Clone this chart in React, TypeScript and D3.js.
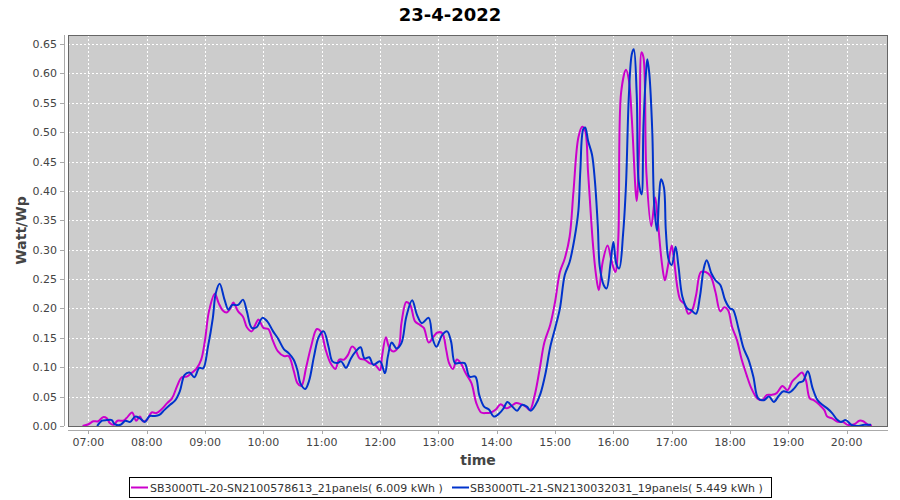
import React from "react";
import * as d3 from "d3";

const TITLE = "23-4-2022";
const X_LABEL = "time";
const Y_LABEL = "Watt/Wp";
const SERIES_NAMES = [
  "SB3000TL-20-SN2100578613_21panels( 6.009 kWh )",
  "SB3000TL-21-SN2130032031_19panels( 5.449 kWh )",
];
const SERIES_COLORS = ["#cc00cc", "#0033cc"];

const Y_TICKS = [0, 0.05, 0.1, 0.15, 0.2, 0.25, 0.3, 0.35, 0.4, 0.45, 0.5, 0.55, 0.6, 0.65];
const X_TICKS = ["07:00", "08:00", "09:00", "10:00", "11:00", "12:00", "13:00", "14:00", "15:00", "16:00", "17:00", "18:00", "19:00", "20:00"];
const X_DOMAIN = ["06:39", "20:42.5"];
const Y_MAX = 0.6653;

const s1Times = [
  "06:54","07:00","07:05","07:10","07:15","07:19","07:22","07:26","07:30","07:36","07:39","07:45","07:49","07:53","07:56",
  "08:00","08:05","08:10","08:15","08:21","08:26","08:31","08:36","08:41","08:46","08:51","08:56",
  "09:00","09:04","09:10","09:14","09:18","09:22","09:26","09:29","09:34","09:39","09:43","09:48","09:51","09:55",
  "10:00","10:05","10:10","10:15","10:21","10:26","10:31","10:35","10:39","10:44","10:49","10:55","10:59",
  "11:04","11:09","11:14","11:18","11:23","11:27","11:31","11:34","11:39","11:44","11:49","11:55",
  "12:00","12:02","12:06","12:09","12:13","12:19","12:22","12:27","12:31","12:36","12:41","12:45","12:50","12:55","12:59",
  "13:04","13:08","13:11","13:15","13:19","13:23","13:28","13:34","13:39","13:44","13:49","13:54","13:59",
  "14:04","14:10","14:15","14:20","14:25","14:30","14:34","14:39","14:44","14:49","14:55",
  "15:00","15:05","15:10","15:15","15:19","15:24","15:28","15:31","15:34","15:39","15:42","15:45","15:49","15:54","15:58",
  "16:02","16:05","16:08","16:13","16:16","16:19","16:24","16:27","16:29","16:31","16:34","16:39","16:43","16:46","16:50","16:53","16:56",
  "17:00","17:02","17:06","17:09","17:13","17:17","17:21","17:25","17:30","17:35","17:40","17:45","17:50","17:54","17:58",
  "18:02","18:07","18:12","18:17","18:22","18:28","18:33","18:38","18:43","18:48","18:54","18:59",
  "19:04","19:09","19:14","19:18","19:22","19:26","19:32","19:37","19:40","19:45","19:51","19:56",
  "20:01","20:08","20:13","20:17","20:22","20:26",
];
const s1Values = [
  0.000,0.003,0.008,0.008,0.015,0.013,0.005,0.002,0.009,0.009,0.013,0.023,0.009,0.016,0.008,
  0.010,0.023,0.022,0.028,0.039,0.047,0.067,0.083,0.084,0.090,0.097,0.113,
  0.147,0.195,0.225,0.209,0.197,0.193,0.200,0.210,0.195,0.186,0.168,0.161,0.170,0.181,
  0.167,0.165,0.144,0.127,0.119,0.119,0.095,0.073,0.068,0.100,0.135,0.165,0.161,
  0.130,0.107,0.097,0.113,0.113,0.121,0.135,0.132,0.115,0.113,0.107,0.104,
  0.095,0.118,0.151,0.135,0.127,0.135,0.175,0.211,0.206,0.178,0.172,0.167,0.142,0.152,0.159,
  0.158,0.130,0.107,0.097,0.113,0.107,0.090,0.073,0.039,0.023,0.022,0.023,0.028,
  0.037,0.030,0.034,0.039,0.037,0.033,0.027,0.052,0.095,0.142,0.172,
  0.211,0.262,0.285,0.322,0.400,0.491,0.509,0.502,0.431,0.309,0.259,0.231,0.279,0.307,0.282,
  0.262,0.316,0.568,0.606,0.588,0.522,0.383,0.502,0.636,0.627,0.430,0.340,0.389,0.343,0.276,0.248,0.271,
  0.307,0.288,0.234,0.214,0.208,0.191,0.197,0.222,0.262,0.262,0.255,0.228,0.195,0.202,0.197,
  0.169,0.147,0.113,0.087,0.064,0.047,0.044,0.053,0.053,0.056,0.068,0.061,
  0.076,0.084,0.091,0.078,0.047,0.044,0.036,0.027,0.016,0.013,0.007,0.007,
  0.002,0.003,0.009,0.008,0.002,0.001,
];

const s2Times = [
  "07:09","07:14","07:19","07:24","07:27","07:33","07:38","07:43","07:48","07:53","07:58",
  "08:03","08:08","08:13","08:18","08:24","08:29","08:34","08:39","08:44","08:49","08:54","08:58",
  "09:03","09:08","09:11","09:15","09:20","09:24","09:28","09:34","09:39","09:43","09:48","09:53","09:59",
  "10:04","10:10","10:15","10:21","10:26","10:31","10:35","10:38","10:43","10:47","10:52","10:57",
  "11:02","11:07","11:11","11:16","11:20","11:25","11:30","11:35","11:40","11:44","11:49","11:53",
  "12:00","12:05","12:08","12:12","12:17","12:22","12:27","12:33","12:38","12:43","12:50","12:54","12:58",
  "13:04","13:09","13:13","13:17","13:21","13:27","13:32","13:38","13:42","13:47","13:52","13:57",
  "14:03","14:07","14:11","14:16","14:21","14:26","14:31","14:35","14:40","14:45","14:50","14:55",
  "15:00","15:05","15:10","15:15","15:20","15:24","15:26","15:29","15:31","15:34","15:38","15:41","15:44","15:46","15:50","15:53","15:57",
  "16:00","16:03","16:06","16:10","16:13","16:16","16:19","16:21","16:24","16:26","16:29","16:31","16:34","16:35","16:37","16:40","16:42","16:45","16:47","16:49","16:52","16:54","16:57",
  "17:00","17:04","17:07","17:11","17:16","17:20","17:25","17:29","17:33","17:36","17:41","17:45","17:50","17:55",
  "18:00","18:03","18:09","18:14","18:19","18:24","18:29","18:35","18:40","18:45","18:50","18:55",
  "19:01","19:06","19:11","19:15","19:20","19:25","19:30","19:35","19:40","19:45","19:50","19:54","19:59",
  "20:05","20:11","20:18","20:25",
];
const s2Values = [
  0.000,0.009,0.010,0.010,0.003,0.002,0.009,0.007,0.016,0.013,0.007,
  0.017,0.017,0.019,0.027,0.036,0.043,0.059,0.087,0.091,0.083,0.099,0.098,
  0.135,0.184,0.226,0.242,0.215,0.198,0.206,0.206,0.215,0.195,0.167,0.168,0.184,
  0.178,0.161,0.149,0.131,0.124,0.113,0.095,0.073,0.063,0.077,0.118,0.152,
  0.161,0.135,0.110,0.107,0.110,0.099,0.115,0.127,0.134,0.115,0.117,0.104,
  0.110,0.090,0.118,0.142,0.132,0.141,0.186,0.214,0.189,0.175,0.184,0.149,0.135,
  0.155,0.161,0.144,0.107,0.107,0.107,0.084,0.084,0.053,0.033,0.028,0.016,
  0.022,0.030,0.041,0.033,0.026,0.036,0.033,0.026,0.036,0.055,0.088,0.134,
  0.166,0.200,0.257,0.279,0.319,0.366,0.434,0.505,0.508,0.485,0.462,0.417,0.340,0.271,0.240,0.234,0.276,
  0.313,0.276,0.268,0.327,0.411,0.565,0.633,0.641,0.565,0.417,0.394,0.514,0.610,0.624,0.599,0.502,0.377,0.332,0.389,0.420,0.406,0.332,0.282,
  0.274,0.305,0.271,0.220,0.200,0.197,0.191,0.220,0.268,0.282,0.259,0.248,0.240,0.214,
  0.200,0.198,0.164,0.132,0.113,0.084,0.047,0.044,0.050,0.041,0.051,0.059,
  0.057,0.064,0.074,0.076,0.093,0.064,0.044,0.036,0.030,0.022,0.011,0.007,0.010,
  0.002,0.000,0.002,0.002,
];

const toMin = (s: string) => {
  const [h, m] = s.split(":");
  return +h * 60 + parseFloat(m);
};

const W = 900;
const H = 500;
const PL = 68, PR = 888, PT = 35, PB = 426;
const FONT = "'DejaVu Sans', sans-serif";

export default function App() {
  const x = d3.scaleLinear().domain(X_DOMAIN.map(toMin)).range([PL, PR]);
  const y = d3.scaleLinear().domain([0, Y_MAX]).range([PB, PT]);
  const line = d3
    .line<[number, number]>()
    .x((d) => x(d[0]))
    .y((d) => y(d[1]))
    .curve(d3.curveCatmullRom.alpha(0.5));
  const series = [
    s1Times.map((t, i) => [toMin(t), s1Values[i]] as [number, number]),
    s2Times.map((t, i) => [toMin(t), s2Values[i]] as [number, number]),
  ];
  const legendItems = [
    { lx: 131, tx: 150 },
    { lx: 452, tx: 470 },
  ];
  return (
    <svg width={W} height={H} style={{ position: "absolute", left: 0, top: 0, background: "#fff" }} fontFamily={FONT}>
      <text x={450} y={21} textAnchor="middle" fontSize={18} fontWeight="bold" fill="#000">{TITLE}</text>
      <rect x={PL} y={PT} width={PR - PL} height={PB - PT} fill="#cccccc" />
      <defs>
        <clipPath id="plotclip">
          <rect x={PL} y={PT} width={PR - PL} height={PB - PT} />
        </clipPath>
      </defs>
      {Y_TICKS.map((v) => (
        <line key={"gy" + v} x1={PL} x2={PR} y1={Math.round(y(v)) + 0.5} y2={Math.round(y(v)) + 0.5} stroke="#fff" strokeWidth={1} strokeDasharray="2,2" />
      ))}
      {X_TICKS.map((t) => (
        <line key={"gx" + t} y1={PT} y2={PB} x1={Math.round(x(toMin(t))) + 0.5} x2={Math.round(x(toMin(t))) + 0.5} stroke="#fff" strokeWidth={1} strokeDasharray="2,2" />
      ))}
      <g clipPath="url(#plotclip)">
        {series.map((s, i) => (
          <path key={i} d={line(s) || ""} fill="none" stroke={SERIES_COLORS[i]} strokeWidth={2} strokeLinejoin="round" />
        ))}
      </g>
      <rect x={PL + 0.5} y={PT + 0.5} width={PR - PL - 1} height={PB - PT} fill="none" stroke="#666" strokeWidth={1} />
      {/* y axis */}
      <line x1={64.5} x2={64.5} y1={PT} y2={PB} stroke="#aaa" />
      {Y_TICKS.map((v) => (
        <g key={"ty" + v}>
          <line x1={60} x2={64} y1={Math.round(y(v)) + 0.5} y2={Math.round(y(v)) + 0.5} stroke="#aaa" />
          <text x={57} y={y(v) + 4} textAnchor="end" fontSize={11} fill="#444">{v.toFixed(2)}</text>
        </g>
      ))}
      {/* x axis */}
      <line x1={PL} x2={PR} y1={430.5} y2={430.5} stroke="#aaa" />
      {X_TICKS.map((t) => (
        <g key={"tx" + t}>
          <line x1={Math.round(x(toMin(t))) + 0.5} x2={Math.round(x(toMin(t))) + 0.5} y1={430} y2={434} stroke="#aaa" />
          <text x={x(toMin(t))} y={446} textAnchor="middle" fontSize={11} fill="#444">{t}</text>
        </g>
      ))}
      <text x={(PL + PR) / 2} y={465} textAnchor="middle" fontSize={14} fontWeight="bold" fill="#444">{X_LABEL}</text>
      <text transform={`translate(26, ${(PT + PB) / 2}) rotate(-90)`} textAnchor="middle" fontSize={14} fontWeight="bold" fill="#444">{Y_LABEL}</text>
      {/* legend */}
      <rect x={129.5} y={477.5} width={642} height={20} fill="#fff" stroke="#000" />
      {legendItems.map((it, i) => (
        <g key={"lg" + i}>
          <line x1={it.lx} x2={it.lx + 17} y1={487.5} y2={487.5} stroke={SERIES_COLORS[i]} strokeWidth={2} />
          <text x={it.tx} y={491.5} fontSize={11} fill="#333">{SERIES_NAMES[i]}</text>
        </g>
      ))}
    </svg>
  );
}
